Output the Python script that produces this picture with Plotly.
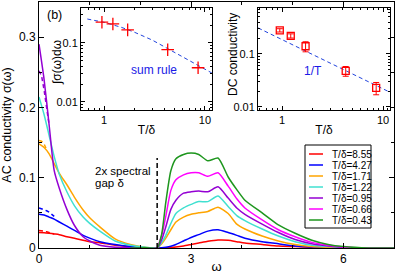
import plotly.graph_objects as go

# ---------------- data ----------------
omega = [0, 0.1, 0.2, 0.3, 0.4, 0.55, 0.7, 0.87, 1.0, 1.2, 1.5, 1.8, 2.1, 2.33, 2.42, 2.5, 2.6, 2.7,
         2.85, 3.0, 3.15, 3.33, 3.53, 3.73, 3.9, 4.06, 4.4, 4.72, 5.05, 5.38, 5.7, 6.0, 6.5, 7.0]

sig_855 = [0.022, 0.0218, 0.021, 0.020, 0.019, 0.016, 0.014, 0.011, 0.009, 0.0075, 0.004, 0.002, 0.0005, 0,
           0.0001, 0.0003, 0.0008, 0.0015, 0.003, 0.005, 0.007, 0.0095, 0.0113, 0.011, 0.009, 0.007, 0.005,
           0.003, 0.002, 0.001, 0.0005, 0.0002, 0, 0]
sig_427 = [0.048, 0.047, 0.044, 0.041, 0.037, 0.031, 0.025, 0.018, 0.014, 0.009, 0.005, 0.002, 0.0005, 0,
           0.0003, 0.001, 0.0025, 0.005, 0.010, 0.015, 0.019, 0.024, 0.026, 0.022, 0.018, 0.014, 0.009,
           0.006, 0.003, 0.0015, 0.0007, 0.0003, 0, 0]
sig_171 = [0.148, 0.143, 0.134, 0.120, 0.106, 0.090, 0.072, 0.054, 0.043, 0.030, 0.013, 0.005, 0.001, 0,
           0.006, 0.014, 0.026, 0.037, 0.044, 0.048, 0.050, 0.052, 0.058, 0.049, 0.034, 0.027, 0.017,
           0.010, 0.005, 0.002, 0.001, 0.0003, 0, 0]
sig_122 = [0.215, 0.19, 0.16, 0.13, 0.105, 0.08, 0.06, 0.044, 0.035, 0.024, 0.010, 0.004, 0.001, 0,
           0.008, 0.018, 0.035, 0.049, 0.057, 0.062, 0.066, 0.066, 0.074, 0.059, 0.046, 0.039, 0.027,
           0.017, 0.009, 0.004, 0.002, 0.0007, 0, 0]
sig_095 = [0.29, 0.24, 0.175, 0.11, 0.085, 0.055, 0.032, 0.016, 0.010, 0.004, 0.001, 0.0003, 0, 0,
           0.012, 0.03, 0.055, 0.068, 0.078, 0.080, 0.081, 0.080, 0.087, 0.071, 0.057, 0.048, 0.034,
           0.022, 0.012, 0.006, 0.003, 0.001, 0, 0]
sig_066 = [None] * 13 + [0, 0.018, 0.045, 0.082, 0.097, 0.104, 0.107, 0.107, 0.102, 0.107, 0.088, 0.070,
                         0.057, 0.040, 0.026, 0.016, 0.008, 0.004, 0.0015, 0, 0]
sig_043 = [None] * 11 + [0, 0.0005, 0, 0.02, 0.065, 0.11, 0.127, 0.133, 0.135, 0.133, 0.124, 0.128, 0.101,
                         0.083, 0.068, 0.05, 0.033, 0.021, 0.011, 0.005, 0.002, 0, 0]

# low-frequency Drude fits (dashed)
fit_omega = [0, 0.05, 0.1, 0.15, 0.2, 0.3]
fit_855 = [0.025, 0.0248, 0.024, 0.023, 0.022, 0.020]
fit_427 = [0.057, 0.056, 0.055, 0.053, 0.051, 0.045]
fit_171 = [0.153, 0.152, 0.148, 0.140, None, None]
fit_095 = [0.252, 0.245, 0.225, 0.200, 0.175, None]

gap_omega = [2.33, 2.33]
gap_line = [0, 0.128]

labels = ["T/δ=8.55", "T/δ=4.27", "T/δ=1.71", "T/δ=1.22", "T/δ=0.95", "T/δ=0.66", "T/δ=0.43"]
colors = ["#ff0000", "#0000ff", "#ffa500", "#40e0d0", "#9400d3", "#ff00ff", "#1e961e"]
series = [sig_855, sig_427, sig_171, sig_122, sig_095, sig_066, sig_043]

# inset 1: sum rule
sum_T = [0.95, 1.22, 1.71, 4.27, 8.55]
sum_val = [0.225, 0.21, 0.167, 0.077, 0.038]
sum_line_T = [0.68, 1.0, 1.5, 2.0, 3.0, 4.27, 6.0, 8.55, 11.7]
sum_line_val = [0.255, 0.224, 0.183, 0.152, 0.112, 0.080, 0.058, 0.041, 0.031]

# inset 2: DC conductivity
dc_T = [0.95, 1.22, 1.71, 4.27, 8.55]
dc_val = [0.28, 0.22, 0.14, 0.048, 0.023]
dc_err = [0.02, 0.02, 0.03, 0.01, 0.006]
dc_line_T = [0.58, 11.7]
dc_line_val = [0.31, 0.019]

FONT = "Liberation Sans, Arial, sans-serif"

fig = go.Figure()

for s, c in zip(series, colors):
    fig.add_trace(go.Scatter(x=omega, y=s, mode="lines", line=dict(color=c, width=1.5, shape="spline", smoothing=0.6),
                             showlegend=False, xaxis="x", yaxis="y"))
for s, c in zip([fit_855, fit_427, fit_171, fit_095], ["#ff0000", "#0000ff", "#ffa500", "#9400d3"]):
    fig.add_trace(go.Scatter(x=fit_omega, y=s, mode="lines", line=dict(color=c, width=1.5, dash="4px,3px"),
                             showlegend=False))
fig.add_trace(go.Scatter(x=gap_omega, y=gap_line, mode="lines", line=dict(color="black", width=1.5, dash="5px,3px"),
                         showlegend=False))

# inset 1
fig.add_trace(go.Scatter(x=sum_line_T, y=sum_line_val, mode="lines", line=dict(color="#2244dd", width=1, dash="4px,3px"),
                         showlegend=False, xaxis="x2", yaxis="y2"))
fig.add_trace(go.Scatter(x=sum_T, y=sum_val, mode="markers",
                         marker=dict(symbol="cross-thin", size=9, line=dict(color="#ff0000", width=1.3)),
                         showlegend=False, xaxis="x2", yaxis="y2"))
# inset 2
fig.add_trace(go.Scatter(x=dc_line_T, y=dc_line_val, mode="lines", line=dict(color="#2244dd", width=1, dash="4px,3px"),
                         showlegend=False, xaxis="x3", yaxis="y3"))
fig.add_trace(go.Scatter(x=dc_T, y=dc_val, mode="markers",
                         marker=dict(symbol="square-open", size=7, color="#ff0000", line=dict(width=1.3)),
                         error_y=dict(type="data", array=dc_err, color="#ff0000", thickness=1, width=3),
                         showlegend=False, xaxis="x3", yaxis="y3"))

W, H = 395, 274
L, R, T, B = 39, 1, 2, 26
pw, ph = W - L - R, H - T - B


def px(x):
    return (x - L) / pw


def py(y):
    return (H - B - y) / ph


axis_common = dict(showline=True, linecolor="black", linewidth=1, mirror="ticks", ticks="inside",
                   showgrid=False, zeroline=False, automargin=False, tickcolor="black")

fig.update_layout(
    width=W, height=H, margin=dict(l=L, r=R, t=T, b=B),
    paper_bgcolor="white", plot_bgcolor="white",
    font=dict(family=FONT, size=12, color="black"),
    xaxis=dict(domain=[0, 1], range=[0, 7], tick0=0, dtick=3, ticklen=5,
               minor=dict(dtick=1, ticks="inside", ticklen=3, tickcolor="black"),
               title=dict(text="ω", standoff=2, font=dict(size=13)), tickfont=dict(size=12), **axis_common),
    yaxis=dict(domain=[0, 1], range=[0, 0.35], tick0=0, dtick=0.1, ticklen=5,
               minor=dict(dtick=0.05, ticks="inside", ticklen=3, tickcolor="black"),
               title=dict(text="AC conductivity σ(ω)", standoff=5, font=dict(size=12.5)), tickfont=dict(size=12),
               **axis_common),
    xaxis2=dict(domain=[px(81), px(212)], anchor="y2", type="log", range=[-0.23, 1.07],
                tickvals=[1, 10], ticktext=["1", "10"], ticklen=4,
                minor=dict(tickvals=[0.6, 0.7, 0.8, 0.9, 2, 3, 4, 5, 6, 7, 8, 9, 11], ticks="inside", ticklen=2,
                           tickcolor="black"),
                title=dict(text="T/δ", standoff=0, font=dict(size=12)), tickfont=dict(size=11), **axis_common),
    yaxis2=dict(domain=[py(110), py(8)], anchor="x2", type="log", range=[-2.136, -0.407],
                tickvals=[0.01, 0.1], ticktext=["0.01", "0.1"], ticklen=4,
                minor=dict(tickvals=[0.008, 0.009, 0.02, 0.03, 0.04, 0.05, 0.06, 0.07, 0.08, 0.09, 0.2, 0.3],
                           ticks="inside", ticklen=2, tickcolor="black"),
                tickfont=dict(size=11), **axis_common),
    xaxis3=dict(domain=[px(258), px(390)], anchor="y3", type="log", range=[-0.238, 1.069],
                tickvals=[1, 10], ticktext=["1", "10"], ticklen=4,
                minor=dict(tickvals=[0.6, 0.7, 0.8, 0.9, 2, 3, 4, 5, 6, 7, 8, 9, 11], ticks="inside", ticklen=2,
                           tickcolor="black"),
                title=dict(text="T/δ", standoff=0, font=dict(size=12)), tickfont=dict(size=11), **axis_common),
    yaxis3=dict(domain=[py(110), py(8)], anchor="x3", type="log", range=[-2.057, -0.132],
                tickvals=[0.01, 0.1], ticktext=["0.01", "0.1"], ticklen=4,
                minor=dict(tickvals=[0.009, 0.02, 0.03, 0.04, 0.05, 0.06, 0.07, 0.08, 0.09, 0.2, 0.3, 0.4, 0.5,
                                     0.6, 0.7], ticks="inside", ticklen=2, tickcolor="black"),
                tickfont=dict(size=11), **axis_common),
    showlegend=False,
)


def note(xp, yp, text, size=12, color="black", xanchor="center", angle=0):
    return dict(x=px(xp), y=py(yp), xref="paper", yref="paper", text=text, showarrow=False,
                xanchor=xanchor, yanchor="middle", textangle=angle, font=dict(size=size, color=color))


annotations = [
    note(54, 15, "(b)", 12.5),
    note(93, 170.5, "2x spectral", 11.5, xanchor="left"),
    note(93, 183, "gap δ", 11.5, xanchor="left"),
    note(154, 70, "sum rule", 12, "#1a1ae6"),
    note(313, 71, "1/T", 12, "#1a1ae6"),
    note(57, 63, "∫σ(ω)dω", 12, angle=-90),
    note(233, 55, "DC conductivity", 12, angle=-90),
]

shapes = [dict(type="rect", xref="paper", yref="paper", x0=px(305), x1=px(371), y0=py(228), y1=py(145),
               line=dict(color="black", width=1), fillcolor="white", layer="above")]
for i, (lab, c) in enumerate(zip(labels, colors)):
    yy = 154 + 11 * i
    shapes.append(dict(type="line", xref="paper", yref="paper", x0=px(309), x1=px(323), y0=py(yy), y1=py(yy),
                       line=dict(color=c, width=1.5), layer="above"))
    annotations.append(note(330, yy, lab, 10, xanchor="left"))

fig.update_layout(annotations=annotations, shapes=shapes)

fig.write_html("out.html", config={"displayModeBar": False},
               post_script="document.body.style.margin='0';")
